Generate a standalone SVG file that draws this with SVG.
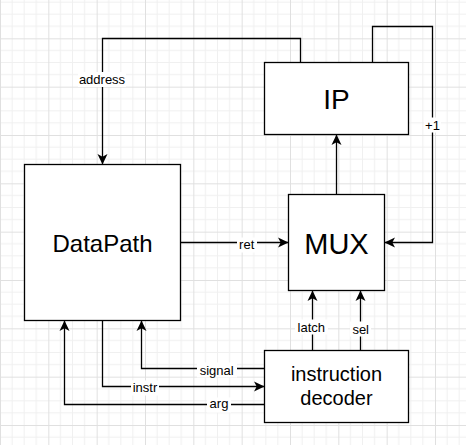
<svg xmlns="http://www.w3.org/2000/svg" width="466" height="445" viewBox="0 0 466 445">
<defs>
<pattern id="grid" patternUnits="userSpaceOnUse" x="0" y="-10" width="48.333" height="48.333">
<path d="M12.083 0V48.333M24.167 0V48.333M36.25 0V48.333M0 12.083H48.333M0 24.167H48.333M0 36.25H48.333" stroke="#f0f0f0" stroke-width="1" fill="none"/>
<path d="M0.5 0V48.333M0 0.5H48.333" stroke="#e0e0e0" stroke-width="1" fill="none"/>
</pattern>
<marker id="arr" markerUnits="userSpaceOnUse" markerWidth="12" markerHeight="12" viewBox="-11 -6 12 12" refX="0" refY="0" orient="auto">
<path d="M0 0L-10.5 -5L-7.8 0L-10.5 5Z" fill="#000"/>
</marker>
<style>
.node rect{fill:#fff;stroke:#000;stroke-width:1.3}
.node text{font-family:"Liberation Sans",Arial,sans-serif;text-anchor:middle;fill:#000}
#connectors path{fill:none;stroke:#000;stroke-width:1.3}
#connectors path.a{marker-end:url(#arr)}
.lbl rect{fill:#fff}
.lbl text{font-family:"Liberation Sans",Arial,sans-serif;font-size:13px;text-anchor:middle;fill:#000}
</style>
</defs>
<rect width="466" height="445" fill="#fff"/>
<rect width="466" height="445" fill="url(#grid)"/>
<g id="connectors">
<path class="a" d="M300.5 62.5V38.5H102.5V164.5"/>
<path class="a" d="M372.5 62.5V26.5H432.5V242.5H384.5"/>
<path class="a" d="M336.5 194.5V134.5"/>
<path class="a" d="M180.5 242.5H288.5"/>
<path class="a" d="M312.5 350.5V290.5"/>
<path class="a" d="M360.5 350.5V290.5"/>
<path class="a" d="M264.5 368.5H141.5V320.5"/>
<path class="a" d="M102.5 320.5V386.5H264.5"/>
<path class="a" d="M264.5 404.5H64.5V320.5"/>
<g class="lbl">
<rect x="78" y="72" width="48" height="15"/><text x="102" y="83.5">address</text>
<rect x="424" y="117.5" width="17" height="15"/><text x="432.5" y="129.5">+1</text>
<rect x="237" y="237.5" width="20" height="15"/><text x="246.7" y="249">ret</text>
<rect x="295" y="319.5" width="33" height="15"/><text x="311.3" y="331.5">latch</text>
<rect x="350" y="321.5" width="21" height="15"/><text x="360.7" y="333.5">sel</text>
<rect x="197" y="362.5" width="40" height="15"/><text x="216.7" y="374.5">signal</text>
<rect x="131" y="380.5" width="28" height="15"/><text x="145" y="392">instr</text>
<rect x="207" y="397.5" width="24" height="15"/><text x="219" y="408">arg</text>
</g>
</g>
<g id="ip" class="node"><rect x="264.5" y="62.5" width="144" height="72"/><text x="336.5" y="109" font-size="28">IP</text></g>
<g id="datapath" class="node"><rect x="24.5" y="164.5" width="156" height="156"/><text x="102.5" y="251.5" font-size="24">DataPath</text></g>
<g id="mux" class="node"><rect x="288.5" y="194.5" width="96" height="96"/><text x="336.5" y="254" font-size="29">MUX</text></g>
<g id="decoder" class="node"><rect x="264.5" y="350.5" width="144" height="72"/><text x="336.5" y="380.5" font-size="20">instruction</text><text x="336.5" y="404.5" font-size="20">decoder</text></g>
</svg>
